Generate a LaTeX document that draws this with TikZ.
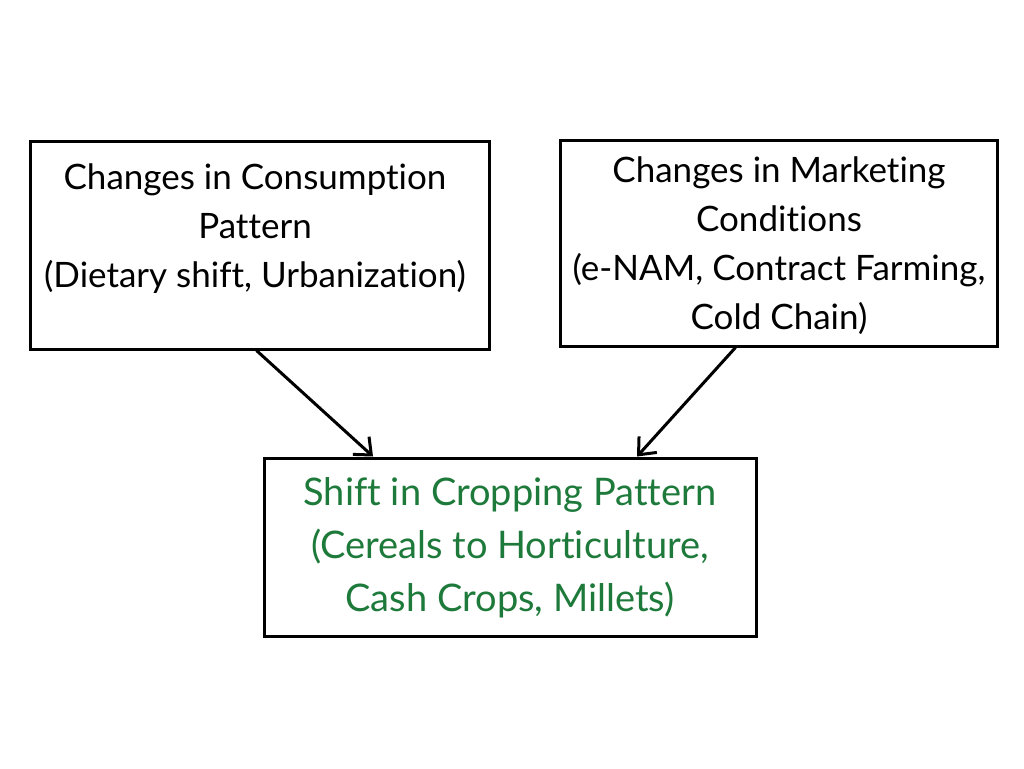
\documentclass[tikz,border=0pt]{standalone}
\usepackage{fontspec}
\setmainfont{Lato}[RawFeature=-liga]
\usetikzlibrary{arrows.meta}
\definecolor{cropgreen}{HTML}{1E7A3A}
\begin{document}
\begin{tikzpicture}[x=1pt,y=-1pt,
  boxnode/.style={draw=black,line width=3pt,fill=white,inner sep=0pt},
  textnode/.style={align=center,inner sep=0pt,font=\fontsize{35}{49}\selectfont},
  link/.style={line width=3pt,-{Straight Barb[length=14pt,width=24pt,line width=3pt]}}]
\useasboundingbox (0,0) rectangle (1024,768);
\fill[white] (0,0) rectangle (1024,768);
\node[boxnode,minimum width=459pt,minimum height=208pt] (b1) at (259.5,245) {};
\node[textnode] (t1) at (255,229)
  {Changes in Consumption\\Pattern\\(Dietary shift, Urbanization)};
\node[boxnode,minimum width=437pt,minimum height=206pt] (b2) at (778.5,243) {};
\node[textnode] (t2) at (779,246)
  {Changes in Marketing\\Conditions\\(e-NAM, Contract Farming,\\Cold Chain)};
\node[boxnode,minimum width=492pt,minimum height=178pt] (b3) at (510,547) {};
\node[textnode,text=cropgreen,font=\fontsize{38}{53}\selectfont] (t3) at (510,548)
  {Shift in Cropping Pattern\\(Cereals to Horticulture,\\Cash Crops, Millets)};
\draw[link] ([xshift=-3pt]b1.south) -- ([xshift=-137pt]b3.north);
\draw[link] ([xshift=-43pt]b2.south) -- ([xshift=127pt]b3.north);
\end{tikzpicture}
\end{document}
